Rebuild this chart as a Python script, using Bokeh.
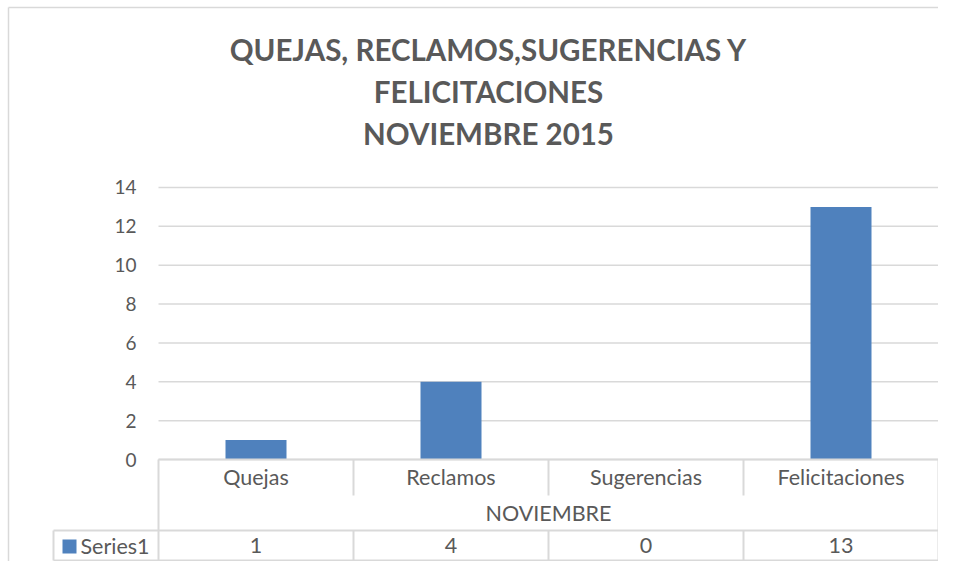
from bokeh.plotting import figure
from bokeh.models import LinearAxis, FixedTicker, Range1d
from bokeh.core.properties import value
from bokeh.embed import file_html
from bokeh.resources import INLINE

# ---- data ----
title_lines = ["QUEJAS, RECLAMOS,SUGERENCIAS Y", "FELICITACIONES", "NOVIEMBRE 2015"]
categories = ["Quejas", "Reclamos", "Sugerencias", "Felicitaciones"]
group_label = "NOVIEMBRE"
series_name = "Series1"
series_values = [1, 4, 0, 13]
y_ticks = [0, 2, 4, 6, 8, 10, 12, 14]

# ---- layout constants (px of the picture) ----
W, H = 938, 561
PX_CAT = 195.0          # px per category
PX_UNIT = 19.43         # px per y unit
PLOT_L, PLOT_B = 158.0, 459.0   # px of plot-area left / zero line

def dx(sx):
    return -0.5 + (sx - PLOT_L) / PX_CAT

def dy(sy):
    return (PLOT_B - sy) / PX_UNIT

FONT = "Lato"
TXT = "#595959"
LINE = "#D9D9D9"
BAR = "#4F81BD"
TAB_FS = "21.5px"

p = figure(width=W, height=H, output_backend="svg", toolbar_location=None,
           x_axis_location=None, y_axis_location=None,
           x_range=Range1d(dx(0), dx(W)), y_range=Range1d(dy(H), dy(0)),
           min_border=0)
p.xgrid.visible = False
p.ygrid.visible = False
p.outline_line_color = None
p.background_fill_color = "white"
p.border_fill_color = "white"

n = len(categories)
xs = list(range(n))
x_left, x_right = -0.5, n - 0.5

# chart border (left, top)
p.segment(x0=[dx(8), dx(8)], y0=[dy(H), dy(7)], x1=[dx(8), dx(W)], y1=[dy(7), dy(7)],
          line_color=LINE, line_width=1.5)

# gridlines
p.segment(x0=[x_left] * len(y_ticks), y0=y_ticks, x1=[x_right] * len(y_ticks), y1=y_ticks,
          line_color=LINE, line_width=1.5)

# bars
p.vbar(x=xs, top=series_values, width=61 / PX_CAT, bottom=0,
       fill_color=BAR, line_color=None)

# y axis
yax = LinearAxis(fixed_location=x_left, ticker=FixedTicker(ticks=y_ticks),
                 axis_line_color=None, major_tick_line_color=None,
                 major_tick_out=0, major_tick_in=0,
                 minor_tick_line_color=None, major_label_standoff=22,
                 major_label_text_font=FONT, major_label_text_font_size="19px",
                 major_label_text_color=TXT)
p.add_layout(yax, "left")

# data table lines
y_cat_bot = dy(495)
y_grp_bot = dy(530)
y_tab_bot = dy(560)
leg_left = dx(53)
# horizontal lines
p.segment(x0=[x_left, leg_left, leg_left], y0=[0, y_grp_bot, y_tab_bot],
          x1=[x_right, x_right, x_right], y1=[0, y_grp_bot, y_tab_bot],
          line_color=LINE, line_width=2)
# outer verticals
p.segment(x0=[x_left, x_right, leg_left], y0=[0, 0, y_grp_bot],
          x1=[x_left, x_right, leg_left], y1=[y_tab_bot, y_tab_bot, y_tab_bot],
          line_color=LINE, line_width=2)
# inner verticals (category row and value row)
inner = [i + 0.5 for i in range(n - 1)]
p.segment(x0=inner, y0=[0] * len(inner), x1=inner, y1=[y_cat_bot] * len(inner),
          line_color=LINE, line_width=2)
p.segment(x0=inner, y0=[y_grp_bot] * len(inner), x1=inner, y1=[y_tab_bot] * len(inner),
          line_color=LINE, line_width=2)

# table texts
p.text(x=xs, y=[dy(476)] * n, text=categories, text_align="center", text_baseline="middle",
       text_font=value(FONT), text_font_size=TAB_FS, text_color=TXT)
p.text(x=[(x_left + x_right) / 2], y=[dy(512)], text=[group_label], text_align="center",
       text_baseline="middle", text_font=value(FONT), text_font_size=TAB_FS, text_color=TXT)
p.text(x=xs, y=[dy(545)] * n, text=[str(v) for v in series_values], text_align="center",
       text_baseline="middle", text_font=value(FONT), text_font_size=TAB_FS, text_color=TXT)
p.quad(left=[dx(62)], right=[dx(76)], top=[dy(539)], bottom=[dy(553)],
       fill_color=BAR, line_color=None)
p.text(x=[dx(80)], y=[dy(545)], text=[series_name], text_align="left", text_baseline="middle",
       text_font=value(FONT), text_font_size=TAB_FS, text_color=TXT)

# title
p.text(x=[dx(488)] * 3, y=[dy(49), dy(90.5), dy(132.5)], text=title_lines,
       text_align="center", text_baseline="middle", text_font=value(FONT),
       text_font_size="29.5px", text_font_style="bold", text_color=TXT)

open("out.html", "w").write(file_html(p, INLINE))
